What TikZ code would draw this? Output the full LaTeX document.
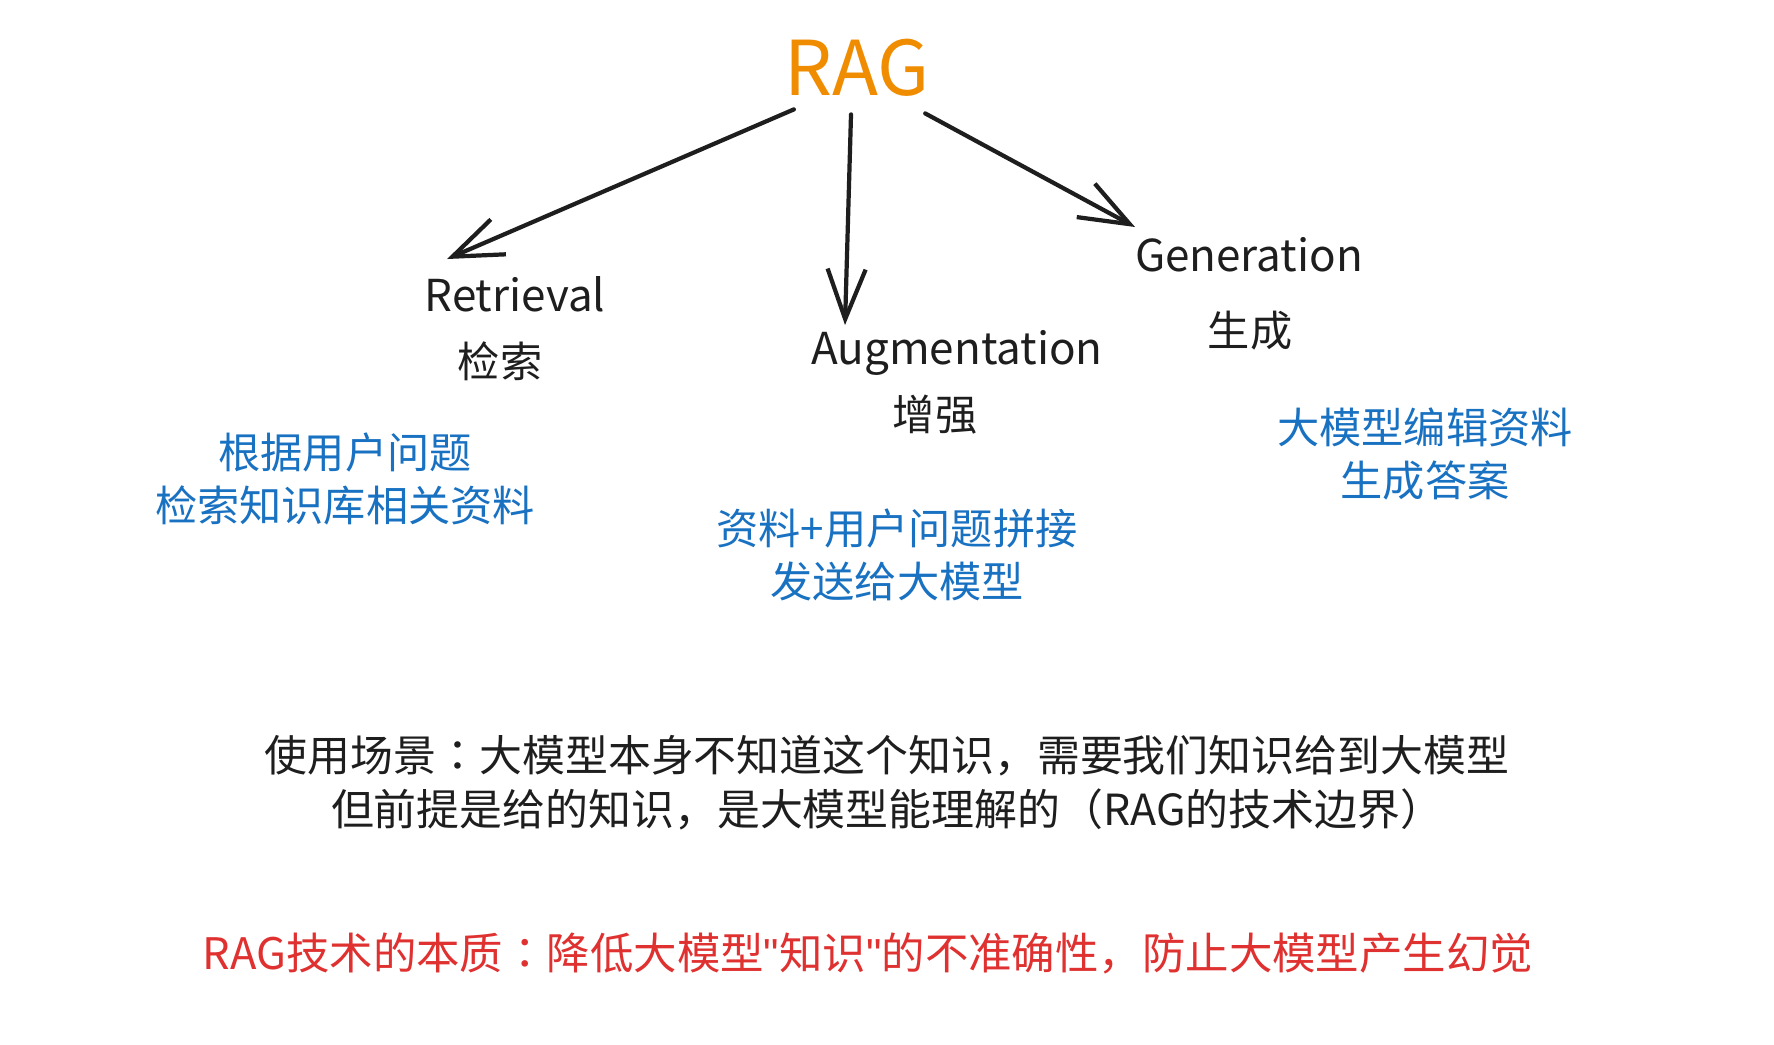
\documentclass[tikz,border=0pt]{standalone}
\usepackage{fontspec}
\setmainfont{Noto Sans CJK SC}
\newfontfamily\colonfont{Noto Sans CJK TC}
\newfontfamily\quotefont{Liberation Sans}
\usepackage{xcolor}
\definecolor{sketch-black}{HTML}{1E1E1E}
\definecolor{sketch-orange}{HTML}{F08C00}
\definecolor{sketch-blue}{HTML}{1971C2}
\definecolor{sketch-red}{HTML}{E03131}
\usepackage{tikz}
\usetikzlibrary{arrows.meta}

\tikzset{
    sketch-arrow/.style={draw=sketch-black, line width=1.2pt, line cap=round, line join=round,
        -{Straight Barb[length=5mm, width=3.8mm]}},
    stage-name/.style={text=sketch-black, inner sep=0pt, font=\fontsize{12.5pt}{15pt}\selectfont},
    stage-cn/.style={text=sketch-black, inner sep=0pt, font=\fontsize{12pt}{15pt}\selectfont},
    stage-note/.style={text=sketch-blue, inner sep=0pt, align=center, font=\fontsize{12pt}{15pt}\selectfont},
}

\begin{document}
\begin{tikzpicture}[x=0.01cm, y=-0.01cm]

    \useasboundingbox[fill=white] (0, 0) rectangle (1774, 1044);

    % Title
    \node[text=sketch-orange, inner sep=0pt, font=\fontsize{21.5pt}{24pt}\selectfont] (rag) at (857, 68) {RAG};

    % Arrow tips
    \coordinate (retrieval-tip) at (447, 259);
    \coordinate (augmentation-tip) at (845, 325);
    \coordinate (generation-tip) at (1135, 227);

    % Arrows
    \draw[sketch-arrow] ([shift={(10, 12)}]rag.south west) -- (retrieval-tip);
    \draw[sketch-arrow] ([shift={(-6, 17)}]rag.south) -- (augmentation-tip);
    \draw[sketch-arrow] ([shift={(-5, 16)}]rag.south east) -- (generation-tip);

    % Retrieval
    \node[stage-name] (retrieval) at (515, 294) {Retrieval};
    \node[stage-cn] (retrieval-cn) at (500, 361) {检索};
    \node[stage-note] (retrieval-note) at (345, 479) {根据用户问题\\检索知识库相关资料};

    % Augmentation
    \node[stage-name] (augmentation) at (957, 353) {Augmentation};
    \node[stage-cn] (augmentation-cn) at (935, 415) {增强};
    \node[stage-note] (augmentation-note) at (897, 555) {资料+用户问题拼接\\发送给大模型};

    % Generation
    \node[stage-name] (generation) at (1249, 255) {Generation};
    \node[stage-cn] (generation-cn) at (1250, 331) {生成};
    \node[stage-note] (generation-note) at (1425, 454) {大模型编辑资料\\生成答案};

    % Usage
    \node[stage-cn, align=center, font=\fontsize{12.2pt}{15.3pt}\selectfont] (usage) at (887, 783) {使用场景{\colonfont ：}大模型本身不知道这个知识，需要我们知识给到大模型\\但前提是给的知识，是大模型能理解的（RAG的技术边界）};

    % Essence
    \node[stage-cn, text=sketch-red, font=\fontsize{12.35pt}{15pt}\selectfont] (essence) at (868, 953) {RAG技术的本质{\colonfont ：}降低大模型{\quotefont "}知识{\quotefont "}的不准确性，防止大模型产生幻觉};

\end{tikzpicture}
\end{document}
